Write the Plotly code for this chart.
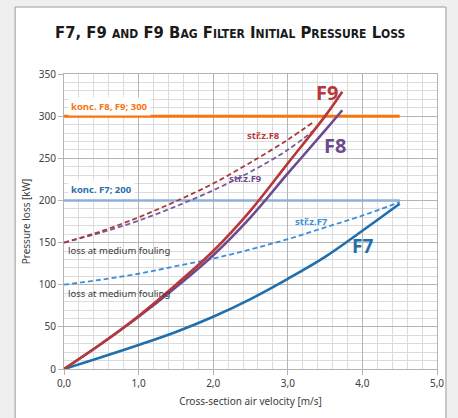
import plotly.graph_objects as go

# ---- data ----
velocity = [0.0, 0.5, 1.0, 1.5, 2.0, 2.5, 3.0, 3.5, 4.0, 4.5]
f7_loss = [0, 14, 28.5, 44, 62, 83, 107, 133, 164, 196]
f7_fouled = [100, 106, 113, 122, 131, 142, 154, 168, 182, 198]

velocity_f8f9 = [0.0, 0.5, 1.0, 1.5, 2.0, 2.5, 3.0, 3.5, 3.73]
f9_loss = [0, 30, 63, 100, 140, 188, 244, 300, 329]
f8_loss = [0, 30, 62, 97, 135, 180, 232, 283, 307]

velocity_fouled = [0.0, 0.5, 1.0, 1.5, 2.0, 2.5, 3.0, 3.36]
fouled_red = [150, 163.5, 180, 199, 220, 245, 272, 294]
fouled_purple = [150, 162, 176, 193, 212, 234, 260, 284]

limit_x = [0.0, 4.5]
limit_f8f9 = [300, 300]
limit_f7 = [200, 200]

x_ticks = [0, 1, 2, 3, 4, 5]
y_ticks = [0, 50, 100, 150, 200, 250, 300, 350]

RED = "#b8373a"
PURPLE = "#6c4a8e"
BLUE = "#1f6fac"
LBLUE = "#3a8fda"
ORANGE = "#f9730f"
PALE = "#8eb0d8"
FONT = "Noto Sans"

fig = go.Figure()

fig.add_trace(go.Scatter(x=limit_x, y=limit_f7, mode="lines",
                         line=dict(color=PALE, width=2.5)))
fig.add_trace(go.Scatter(x=limit_x, y=limit_f8f9, mode="lines",
                         line=dict(color=ORANGE, width=3)))
fig.add_trace(go.Scatter(x=velocity, y=f7_fouled, mode="lines",
                         line=dict(color=LBLUE, width=1.8, dash="5px,3px", shape="spline")))
fig.add_trace(go.Scatter(x=velocity_fouled, y=fouled_purple, mode="lines",
                         line=dict(color="#7a5a9a", width=1.8, dash="5px,3px", shape="spline")))
fig.add_trace(go.Scatter(x=velocity_fouled, y=fouled_red, mode="lines",
                         line=dict(color="#a8383c", width=1.8, dash="5px,3px", shape="spline")))
fig.add_trace(go.Scatter(x=velocity, y=f7_loss, mode="lines",
                         line=dict(color=BLUE, width=2.6, shape="spline")))
fig.add_trace(go.Scatter(x=velocity_f8f9, y=f8_loss, mode="lines",
                         line=dict(color=PURPLE, width=2.6, shape="spline")))
fig.add_trace(go.Scatter(x=velocity_f8f9, y=f9_loss, mode="lines",
                         line=dict(color=RED, width=2.6, shape="spline")))

ann = []
def add(x, y, text, color, size, bold=False, xanchor="center", bg=None):
    t = f"<b>{text}</b>" if bold else text
    d = dict(x=x, y=y, xref="x", yref="y", text=t, showarrow=False,
             xanchor=xanchor, yanchor="middle",
             font=dict(family=FONT, size=size, color=color))
    if bg:
        d["bgcolor"] = bg
        d["borderpad"] = 2
    ann.append(d)

add(0.06, 312, "konc. F8, F9; 300", ORANGE, 9.5, True, "left", "white")
add(0.06, 213, "konc. F7; 200", "#2e6ea6", 9.5, True, "left", "white")
add(0.03, 141, "loss at medium fouling", "#3a3a3a", 9.5, False, "left")
add(0.03, 89, "loss at medium fouling", "#3a3a3a", 9.5, False, "left")
add(3.52, 328, "F9", RED, 20, True)
add(3.63, 265, "F8", PURPLE, 20, True)
add(4.0, 146, "F7", BLUE, 19, True)
add(2.67, 277, "stř.z.F8", RED, 9.5, True)
add(2.43, 226, "stř.z.F9", PURPLE, 9.5, True)
add(3.32, 175, "stř.z.F7", LBLUE, 9.5, True)

def sc(big, small):
    return f"{big}<span style='font-size:12px'>{small}</span>"

title = ("F7, F9 " + sc("", "AND") + " F9 " + sc("B", "AG") + " " + sc("F", "ILTER") + " "
         + sc("I", "NITIAL") + " " + sc("P", "RESSURE") + " " + sc("L", "OSS"))
ann.append(dict(x=0.445, y=1.14, xref="paper", yref="paper",
                text="<b>" + title + "</b>", showarrow=False, xanchor="center", yanchor="middle",
                font=dict(family="Liberation Sans Narrow, DejaVu Sans Condensed, sans-serif",
                          size=16.5, color="#1a1a1a")))

fig.update_layout(
    width=458, height=418,
    margin=dict(l=64, r=21, t=74, b=49),
    paper_bgcolor="#efefef",
    plot_bgcolor="white",
    showlegend=False,
    separators=",.",
    annotations=ann,
    font=dict(family=FONT, size=10, color="#404040"),
    shapes=[dict(type="rect", xref="paper", yref="paper",
                 x0=-0.131, x1=1.024, y0=-0.2, y1=1.227,
                 fillcolor="white", line=dict(color="#9a9a9a", width=1), layer="below")],
)

fig.update_xaxes(range=[0, 5], tickvals=x_ticks, tickformat=".1f",
                 showgrid=True, gridcolor="#b4b4b4", gridwidth=1,
                 minor=dict(dtick=0.2, showgrid=True, gridcolor="#dcdcdc", gridwidth=1),
                 showline=True, linecolor="#b4b4b4", mirror=True,
                 ticks="outside", ticklen=5, tickcolor="#b4b4b4",
                 zeroline=False,
                 tickfont=dict(family=FONT, size=10, color="#404040"),
                 title=dict(text="Cross-section air velocity [m/s]", standoff=8,
                            font=dict(family=FONT, size=10, color="#404040")))
fig.update_yaxes(range=[0, 350], tickvals=y_ticks,
                 showgrid=True, gridcolor="#b4b4b4", gridwidth=1,
                 minor=dict(dtick=10, showgrid=True, gridcolor="#dcdcdc", gridwidth=1),
                 showline=True, linecolor="#b4b4b4", mirror=True,
                 ticks="outside", ticklen=5, tickcolor="#b4b4b4",
                 zeroline=False,
                 tickfont=dict(family=FONT, size=10, color="#404040"),
                 title=dict(text="Pressure loss [kW]", standoff=6,
                            font=dict(family=FONT, size=10, color="#404040")))

fig.write_html("out.html", config={"displayModeBar": False},
               post_script="document.body.style.margin='0';document.body.style.background='#efefef';")
